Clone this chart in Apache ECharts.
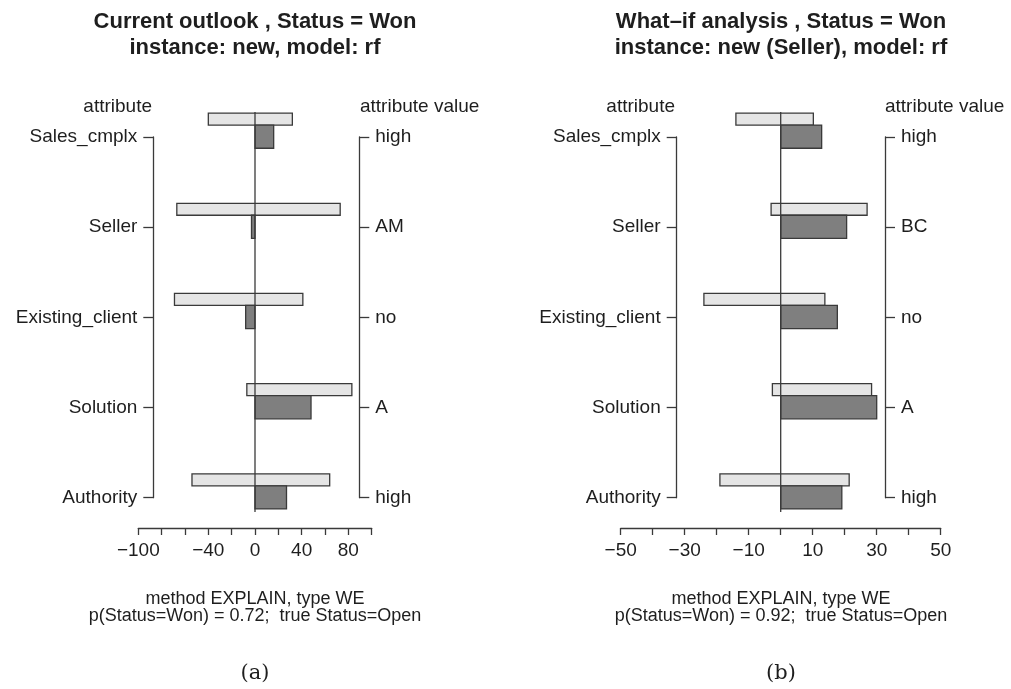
<!DOCTYPE html>
<html>
<head>
<meta charset="utf-8">
<script src="https://cdn.jsdelivr.net/npm/echarts@6.0.0/dist/echarts.min.js"></script>
<style>
html,body{margin:0;padding:0;background:#ffffff;}
#chart{width:1011px;height:689px;}
</style>
</head>
<body>
<div id="chart"></div>
<script>
// ---- data ----
const attributes = ['Sales_cmplx', 'Seller', 'Existing_client', 'Solution', 'Authority'];
const attrValuesA = ['high', 'AM', 'no', 'A', 'high'];
const attrValuesB = ['high', 'BC', 'no', 'A', 'high'];

// panel (a): light bar range [low, high] and dark bar (instance contribution)
const rangeLowA  = [-40, -67, -69, -7, -54];
const rangeHighA = [32, 73, 41, 83, 64];
const contribA   = [16, -3, -8, 48, 27];

// panel (b)
const rangeLowB  = [-14, -3, -24, -2.6, -19];
const rangeHighB = [10.2, 27, 13.8, 28.4, 21.4];
const contribB   = [12.8, 20.6, 17.7, 30, 19.1];

const tickLabelsA = [-100, -40, 0, 40, 80];
const tickLabelsB = [-50, -30, -10, 10, 30, 50];

const titleA = ['Current outlook , Status = Won', 'instance: new, model: rf'];
const titleB = ['What\u2013if analysis , Status = Won', 'instance: new (Seller), model: rf'];
const subA = ['method EXPLAIN, type WE', 'p(Status=Won) = 0.72;  true Status=Open'];
const subB = ['method EXPLAIN, type WE', 'p(Status=Won) = 0.92;  true Status=Open'];
const panelTags = ['(a)', '(b)'];

// ---- layout ----
const FONT = '"Liberation Sans", Arial, sans-serif';
const TXT = '#1e1e1e';
const LINE = '#3a3a3a';
const rowTop = 137, rowBottom = 497.7;
const rowPx = (rowBottom - rowTop) / (attributes.length - 1);
const barTop = 112, barBottom = 512;
const yMin = 1 - (rowTop - barTop) / rowPx;
const yMax = attributes.length + (barBottom - rowBottom) / rowPx;

function rows(lo, hi, c) {
  return attributes.map((a, i) => [i + 1, lo[i], hi[i], c[i]]);
}
function renderBars(params, api) {
  const r = api.value(0), lo = api.value(1), hi = api.value(2), c = api.value(3);
  const a = api.coord([lo, r - 0.265]);
  const b = api.coord([hi, r - 0.132]);
  const z = api.coord([0, r - 0.132]);
  const d = api.coord([c, r + 0.125]);
  return {
    type: 'group',
    children: [
      {type: 'rect', shape: {x: a[0], y: a[1], width: b[0] - a[0], height: b[1] - a[1]},
       style: {fill: '#e5e5e5', stroke: LINE, lineWidth: 1.3}},
      {type: 'rect', shape: {x: Math.min(z[0], d[0]), y: z[1], width: Math.abs(d[0] - z[0]), height: d[1] - z[1]},
       style: {fill: '#7f7f7f', stroke: LINE, lineWidth: 1.3}}
    ]
  };
}
function renderZero(params, api) {
  const p = api.coord([api.value(0), api.value(1)]);
  const cs = params.coordSys;
  return {type: 'line', shape: {x1: p[0], y1: cs.y, x2: p[0], y2: cs.y + cs.height},
          style: {stroke: LINE, lineWidth: 1.3}};
}
function fmtTick(shown) {
  return v => shown.indexOf(v) >= 0 ? String(v).replace('-', '\u2212') : '';
}
function valueX(grid, min, max, interval, shown) {
  return {
    gridIndex: grid, type: 'value', min: min, max: max, interval: interval,
    position: 'bottom', offset: 16,
    axisLine: {show: true, lineStyle: {color: LINE, width: 1.3}},
    axisTick: {show: true, length: 7, inside: false, lineStyle: {color: LINE, width: 1.3}},
    splitLine: {show: false},
    axisLabel: {show: true, margin: 13, color: TXT, fontFamily: FONT, fontSize: 19, formatter: fmtTick(shown)}
  };
}
function catY(grid, data, pos) {
  return {
    gridIndex: grid, type: 'category', data: data, boundaryGap: false, inverse: true, position: pos,
    axisLine: {show: true, lineStyle: {color: LINE, width: 1.3}},
    axisTick: {show: true, length: 10, inside: false, lineStyle: {color: LINE, width: 1.3}},
    splitLine: {show: false},
    axisLabel: {show: true, interval: 0, margin: 16, color: TXT, fontFamily: FONT, fontSize: 19}
  };
}
function txt(text, x, y, align, size, weight, family) {
  return {type: 'text', silent: true,
          style: {text: text, x: x, y: y, textAlign: align, textVerticalAlign: 'middle',
                  font: (weight || 'normal') + ' ' + size + 'px ' + (family || FONT), fill: TXT}};
}

const centers = [255, 781];
const graphics = [
  txt(titleA[0], centers[0], 22, 'center', 22, 'bold'),
  txt(titleA[1], centers[0], 48, 'center', 22, 'bold'),
  txt(titleB[0], centers[1], 22, 'center', 22, 'bold'),
  txt(titleB[1], centers[1], 48, 'center', 22, 'bold'),
  txt('attribute', 152, 107, 'right', 19),
  txt('attribute value', 360, 107, 'left', 19),
  txt('attribute', 675, 107, 'right', 19),
  txt('attribute value', 885, 107, 'left', 19),
  txt(subA[0], centers[0], 599, 'center', 18),
  txt(subA[1], centers[0], 616, 'center', 18),
  txt(subB[0], centers[1], 599, 'center', 18),
  txt(subB[1], centers[1], 616, 'center', 18),
  txt(panelTags[0], centers[0], 674, 'center', 21, 'normal', '"DejaVu Serif", "Liberation Serif", serif'),
  txt(panelTags[1], centers[1], 674, 'center', 21, 'normal', '"DejaVu Serif", "Liberation Serif", serif')
];

const option = {
  backgroundColor: '#ffffff',
  animation: false,
  grid: [
    {left: 138.3, top: barTop, width: 233.4, height: barBottom - barTop, containLabel: false, outerBoundsMode: 'none'},
    {left: 620.7, top: barTop, width: 320, height: barBottom - barTop, containLabel: false, outerBoundsMode: 'none'},
    {left: 153.3, top: rowTop, width: 206, height: rowBottom - rowTop, containLabel: false, outerBoundsMode: 'none'},
    {left: 676.7, top: rowTop, width: 208.3, height: rowBottom - rowTop, containLabel: false, outerBoundsMode: 'none'}
  ],
  xAxis: [
    valueX(0, -100, 100, 20, tickLabelsA),
    valueX(1, -50, 50, 10, tickLabelsB),
    {gridIndex: 2, type: 'value', show: false, min: 0, max: 1},
    {gridIndex: 3, type: 'value', show: false, min: 0, max: 1}
  ],
  yAxis: [
    {gridIndex: 0, type: 'value', min: yMin, max: yMax, inverse: true, show: false},
    {gridIndex: 1, type: 'value', min: yMin, max: yMax, inverse: true, show: false},
    catY(2, attributes, 'left'),
    catY(2, attrValuesA, 'right'),
    catY(3, attributes, 'left'),
    catY(3, attrValuesB, 'right')
  ],
  series: [
    {type: 'custom', coordinateSystem: 'cartesian2d', xAxisIndex: 0, yAxisIndex: 0, clip: false, z: 2,
     encode: {x: [1, 2, 3], y: 0}, data: rows(rangeLowA, rangeHighA, contribA), renderItem: renderBars},
    {type: 'custom', coordinateSystem: 'cartesian2d', xAxisIndex: 1, yAxisIndex: 1, clip: false, z: 2,
     encode: {x: [1, 2, 3], y: 0}, data: rows(rangeLowB, rangeHighB, contribB), renderItem: renderBars},
    {type: 'custom', coordinateSystem: 'cartesian2d', xAxisIndex: 0, yAxisIndex: 0, clip: false, z: 3,
     encode: {x: 0, y: 1}, data: [[0, 1]], renderItem: renderZero},
    {type: 'custom', coordinateSystem: 'cartesian2d', xAxisIndex: 1, yAxisIndex: 1, clip: false, z: 3,
     encode: {x: 0, y: 1}, data: [[0, 1]], renderItem: renderZero}
  ],
  graphic: graphics
};

const chart = echarts.init(document.getElementById('chart'), null, {renderer: 'canvas'});
chart.setOption(option);
</script>
</body>
</html>
